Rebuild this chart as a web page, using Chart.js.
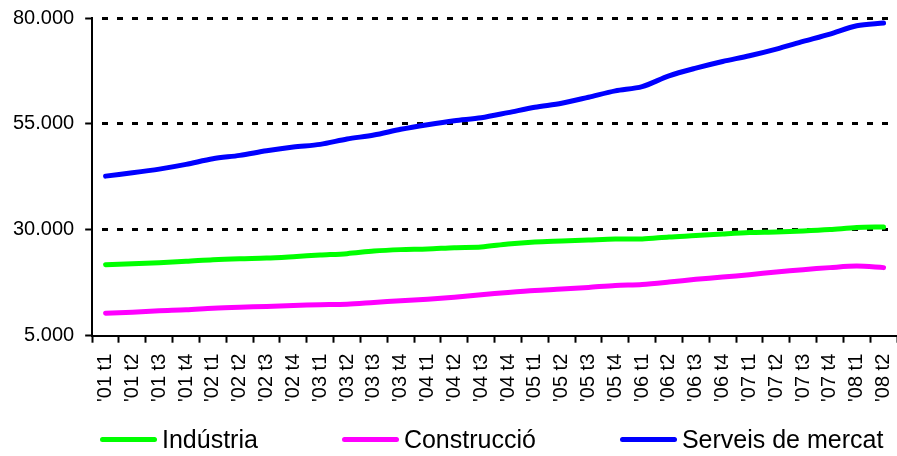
<!DOCTYPE html>
<html lang="ca">
<head>
<meta charset="utf-8">
<title>Ocupació per sectors</title>
<script src="https://cdn.jsdelivr.net/npm/chart.js@4/dist/chart.umd.min.js"></script>
<style>
  body { margin: 0; background: #fff; }
  #wrap { position: relative; width: 897px; height: 456px; }
  #legenda {
    position: absolute; left: 100px; top: 424px;
    display: flex; gap: 84px;
    font-family: 'Liberation Sans', Arial, sans-serif; font-size: 25px; line-height: 30px; color: #000;
  }
  .item__legenda { display: flex; align-items: center; }
  .linia__legenda { width: 57px; height: 5px; border-radius: 3px; margin-right: 5px; }
</style>
</head>
<body>
<div id="wrap">
  <canvas id="graficoOcupacio" width="897" height="456"></canvas>
  <div id="legenda"></div>
</div>
<script>
// trimestres 2001 t1 - 2008 t2
const trimestres = ["'01 t1", "'01 t2", "'01 t3", "'01 t4", "'02 t1", "'02 t2", "'02 t3", "'02 t4",
  "'03 t1", "'03 t2", "'03 t3", "'03 t4", "'04 t1", "'04 t2", "'04 t3", "'04 t4",
  "'05 t1", "'05 t2", "'05 t3", "'05 t4", "'06 t1", "'06 t2", "'06 t3", "'06 t4",
  "'07 t1", "'07 t2", "'07 t3", "'07 t4", "'08 t1", "'08 t2"];

const industria = [21770, 22000, 22240, 22550, 22950, 23190, 23330, 23660, 24040, 24370,
  24990, 25320, 25460, 25790, 25940, 26650, 27120, 27360, 27600, 27830,
  27830, 28300, 28630, 29010, 29340, 29480, 29720, 30050, 30520, 30670];

const construccio = [10320, 10550, 10890, 11120, 11500, 11740, 11900, 12140, 12300, 12450,
  12850, 13250, 13630, 14100, 14680, 15220, 15690, 16000, 16400, 16870,
  17110, 17660, 18300, 18840, 19410, 20030, 20590, 21070, 21440, 21070];

const serveis = [42670, 43450, 44330, 45440, 46770, 47570, 48660, 49540, 50170, 51430,
  52380, 53730, 54820, 55760, 56450, 57660, 58930, 59880, 61300, 62790,
  63810, 66340, 68160, 69730, 71080, 72660, 74460, 76210, 78180, 78820];

const ticksY = [5000, 30000, 55000, 80000];

const fonte = "'Liberation Sans', Arial, sans-serif";

// separador de milers amb punt
function formatMilers(v) {
    return String(v).replace(/\B(?=(\d{3})+(?!\d))/g, '.');
}

function serie(nom, dades, cor) {
    return {
        label: nom,
        data: dades,
        borderColor: cor,
        backgroundColor: cor,
        borderWidth: 5,
        borderCapStyle: 'round',
        borderJoinStyle: 'round',
        pointRadius: 0,
        tension: 0.3,
        fill: false
    };
}

const ctx = document.getElementById('graficoOcupacio').getContext('2d');

const grafico = new Chart(ctx, {
    type: 'line',
    data: {
        labels: trimestres,
        datasets: [
            serie('Indústria', industria, '#00ff00'),
            serie('Construcció', construccio, '#ff00ff'),
            serie('Serveis de mercat', serveis, '#0000ff')
        ]
    },
    options: {
        responsive: false,
        devicePixelRatio: 1,
        animation: false,
        layout: {
            padding: { left: 2, top: 18, right: -5, bottom: 43 }
        },
        scales: {
            x: {
                offset: true,
                // sense marge extra per les etiquetes girades
                afterFit: (escala) => {
                    escala.paddingLeft = 0;
                    escala.paddingRight = 0;
                },
                grid: {
                    offset: true,
                    drawOnChartArea: false,
                    tickLength: 7,
                    tickWidth: 2,
                    tickColor: '#000'
                },
                border: { color: '#000', width: 2 },
                ticks: {
                    autoSkip: false,
                    minRotation: 90,
                    maxRotation: 90,
                    padding: 11,
                    color: '#000',
                    font: { family: fonte, size: 20 }
                }
            },
            y: {
                min: ticksY[0],
                max: ticksY[ticksY.length - 1],
                afterBuildTicks: (escala) => {
                    escala.ticks = ticksY.map(v => ({ value: v }));
                },
                afterFit: (escala) => {
                    escala.paddingTop = 0;
                    escala.paddingBottom = 0;
                },
                grid: {
                    // la linia de 5.000 es l'eix X, sense puntejat
                    color: (c) => (c.index === 0 ? 'rgba(0,0,0,0)' : '#000'),
                    lineWidth: 3,
                    tickLength: 7,
                    tickWidth: 2,
                    tickColor: '#000'
                },
                border: { color: '#000', width: 2, dash: [6, 9], dashOffset: 6 },
                ticks: {
                    padding: 11,
                    color: '#000',
                    font: { family: fonte, size: 20 },
                    callback: (v) => formatMilers(v)
                }
            }
        },
        plugins: {
            legend: { display: false },
            tooltip: { enabled: false }
        }
    }
});

// llegenda amb les mateixes series del grafic
const legenda = document.getElementById('legenda');
grafico.data.datasets.forEach((ds) => {
    const item = document.createElement('div');
    item.className = 'item__legenda';
    const linia = document.createElement('span');
    linia.className = 'linia__legenda';
    linia.style.background = ds.borderColor;
    const texto = document.createElement('span');
    texto.textContent = ds.label;
    item.appendChild(linia);
    item.appendChild(texto);
    legenda.appendChild(item);
});
</script>
</body>
</html>
